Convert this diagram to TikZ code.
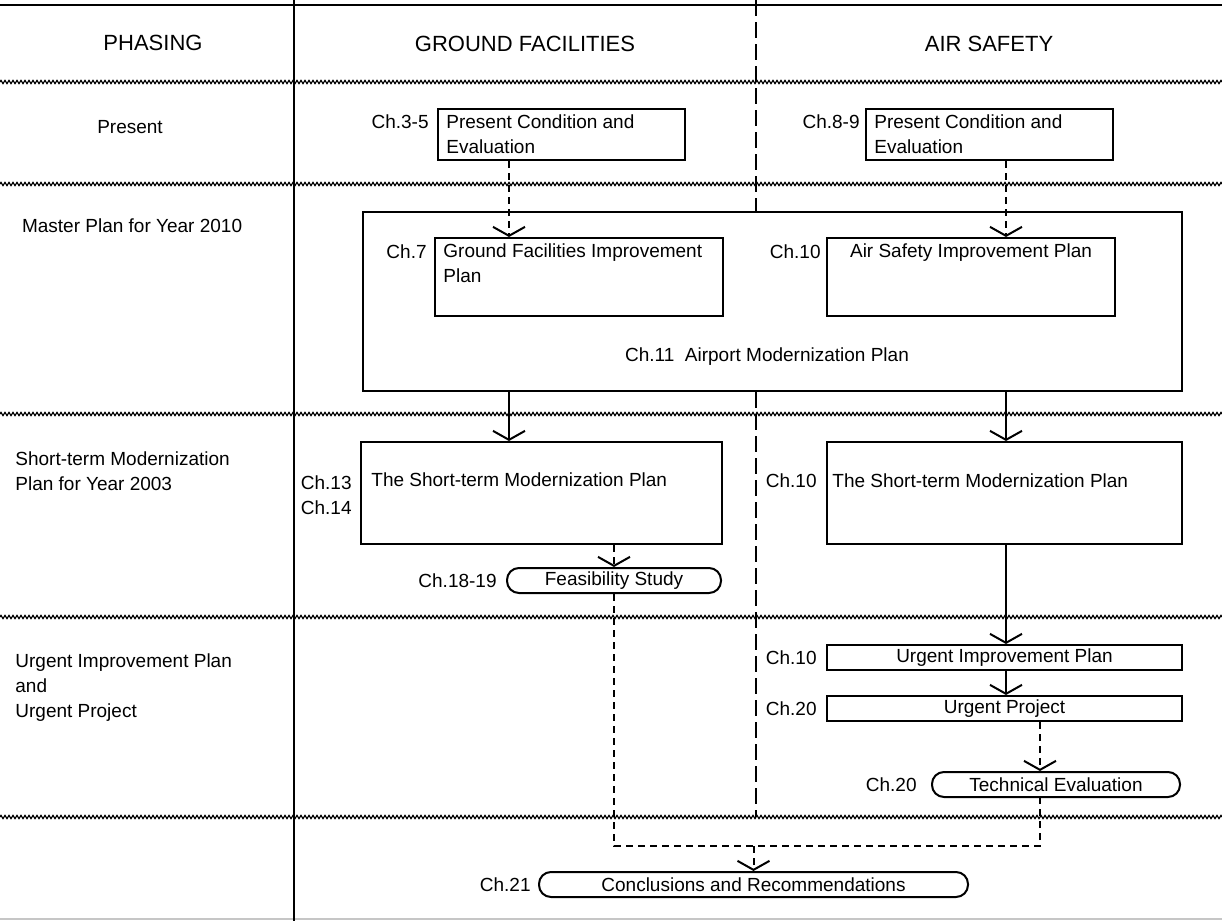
\documentclass[tikz,border=0pt]{standalone}
\usepackage{fontspec}
\setmainfont{Liberation Sans}
\usetikzlibrary{arrows.meta, positioning, decorations.pathmorphing}

\begin{document}
\begin{tikzpicture}[
  x=0.5pt, y=-0.5pt,
  font=\fontsize{9.5}{12.5}\selectfont,
  box/.style={draw, line width=1pt, rectangle, inner sep=0pt},
  oval/.style={draw, line width=1pt, rounded corners=6pt, minimum height=12.5pt, inner sep=0pt},
  head/.style={font=\fontsize{11}{13}\selectfont},
  chap/.style={inner sep=0pt},
  intext/.style={inner sep=0pt, align=left},
  flow/.style={line width=1pt, -{Straight Barb[length=4.5pt, width=16pt]}},
  dflow/.style={flow, dash pattern=on 3.5pt off 2.5pt},
  dline/.style={line width=1pt, dash pattern=on 3.5pt off 2.5pt},
  wavy/.style={line width=0.6pt, decorate, decoration={zigzag, segment length=2pt, amplitude=0.8pt}},
  divider/.style={line width=1pt, dash pattern=on 8pt off 3pt},
]
\useasboundingbox (0,0) rectangle (1222,921);

% Table frame: top rule, row separators, phasing column rule.
\draw[line width=1pt] (0,5) -- (1222,5);
\draw[gray!45, line width=1pt] (0,919) -- (1222,919);
\foreach \y in {82,184,414,617,817}
  \draw[wavy] (0,\y) -- (1222,\y);
\draw[line width=1.3pt] (294,0) -- (294,921);

% Column headings.
\node[head] (h_phase) at (153,43) {PHASING};
\node[head] (h_gf) at (525,44) {GROUND FACILITIES};
\node[head] (h_as) at (989,44) {AIR SAFETY};

% Phasing labels.
\node (p_present) at (130,127) {Present};
\node[anchor=west] (p_master) at (15,226) {Master Plan for Year 2010};
\node[intext, anchor=north west] (p_short) at (15,451) {Short-term Modernization\\Plan for Year 2003};
\node[intext, anchor=north west] (p_urgent) at (15,653) {Urgent Improvement Plan\\and\\Urgent Project};

% Columns used by the arrows.
\coordinate (gfcol) at (509,0);
\coordinate (ascol) at (1006,0);
\coordinate (midcol) at (756,0);
\coordinate (techcol) at (1040,0);
\coordinate (join) at (753.5,846);

% Present.
\node[box, minimum width=123.5pt, minimum height=25.5pt] (pres_gf) at (561.5,134.5) {};
\node[intext, anchor=north west] (t_pres_gf) at ([xshift=4.5pt, yshift=-3pt]pres_gf.north west) {Present Condition and\\Evaluation};
\node[chap, anchor=east] (c_pres_gf) at ([xshift=-4pt, yshift=-7pt]pres_gf.north west) {Ch.3-5};

\node[box, minimum width=123.5pt, minimum height=25.5pt] (pres_as) at (989.5,134.5) {};
\node[intext, anchor=north west] (t_pres_as) at ([xshift=4.5pt, yshift=-3pt]pres_as.north west) {Present Condition and\\Evaluation};
\node[chap, anchor=east] (c_pres_as) at ([xshift=-2.5pt, yshift=-7pt]pres_as.north west) {Ch.8-9};

% Master plan.
\node[box, minimum width=409.5pt, minimum height=89.5pt] (master) at (772.5,301.5) {};
\node (t_master) at (767,357) {Ch.11\ \ Airport Modernization Plan};

\node[box, minimum width=144pt, minimum height=39pt] (gf_imp) at (579,277) {};
\node[intext, anchor=north west] (t_gf_imp) at ([xshift=4.5pt, yshift=-3pt]gf_imp.north west) {Ground Facilities Improvement\\Plan};
\node[chap, anchor=east] (c_gf_imp) at ([xshift=-3.5pt, yshift=-7.5pt]gf_imp.north west) {Ch.7};

\node[box, minimum width=144pt, minimum height=39pt] (as_imp) at (971,277) {};
\node[intext, anchor=north] (t_as_imp) at ([yshift=-3pt]as_imp.north) {Air Safety Improvement Plan};
\node[chap, anchor=east] (c_as_imp) at ([xshift=-2.5pt, yshift=-7.5pt]as_imp.north west) {Ch.10};

% Short-term plan.
\node[box, minimum width=180.5pt, minimum height=51pt] (st_gf) at (541.5,493) {};
\node[intext, anchor=west] (t_st_gf) at ([xshift=5.5pt, yshift=-19.5pt]st_gf.north west) {The Short-term Modernization Plan};
\node[intext, anchor=north east] (c_st_gf) at ([xshift=-4pt, yshift=-17pt]st_gf.north west) {Ch.13\\Ch.14};

\node[box, minimum width=177.5pt, minimum height=51pt] (st_as) at (1004.5,493) {};
\node[intext, anchor=west] (t_st_as) at ([xshift=3pt, yshift=-20pt]st_as.north west) {The Short-term Modernization Plan};
\node[chap, anchor=east] (c_st_as) at ([xshift=-4.5pt, yshift=-20pt]st_as.north west) {Ch.10};

\node[oval, minimum width=107pt] (feas) at (614,580.5) {Feasibility Study};
\node[chap, left=4.5pt of feas] (c_feas) {Ch.18-19};

% Urgent plan and project.
\node[box, minimum width=177.5pt, minimum height=12.5pt] (urg_plan) at (1004.5,657.5) {Urgent Improvement Plan};
\node[chap, left=4.5pt of urg_plan] (c_urg_plan) {Ch.10};
\node[box, minimum width=177.5pt, minimum height=12.5pt] (urg_proj) at (1004.5,708.5) {Urgent Project};
\node[chap, left=4.5pt of urg_proj] (c_urg_proj) {Ch.20};
\node[oval, minimum width=124pt] (tech) at (1056,784.5) {Technical Evaluation};
\node[chap, left=7pt of tech] (c_tech) {Ch.20};

% Conclusions.
\node[oval, minimum width=214.5pt] (concl) at (753.5,884.5) {Conclusions and Recommendations};
\node[chap, left=3.5pt of concl] (c_concl) {Ch.21};

% Divider between the two study areas.
\draw[divider] (midcol) -- (master.north -| midcol);
\draw[divider] (master.south -| midcol) -- (756,817);

% Flow between phases.
\draw[dflow] (pres_gf.south -| gfcol) -- (gf_imp.north -| gfcol);
\draw[dflow] (pres_as.south -| ascol) -- (as_imp.north -| ascol);
\draw[flow] (master.south -| gfcol) -- (st_gf.north -| gfcol);
\draw[flow] (master.south -| ascol) -- (st_as.north -| ascol);
\draw[dflow] (st_gf.south -| feas.north) -- (feas.north);
\draw[flow] (st_as.south -| ascol) -- (urg_plan.north -| ascol);
\draw[flow] (urg_plan.south -| ascol) -- (urg_proj.north -| ascol);
\draw[dflow] (urg_proj.south -| techcol) -- (tech.north -| techcol);
\draw[dline] (feas.south) |- (join) -| (tech.south -| techcol);
\draw[dflow] (join) -- (concl.north);

\end{tikzpicture}
\end{document}
